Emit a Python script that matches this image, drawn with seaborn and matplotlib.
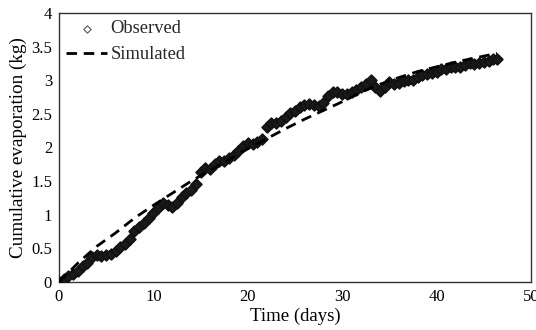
import matplotlib
matplotlib.use("Agg")
import matplotlib.pyplot as plt
import seaborn as sns
import pandas as pd
import numpy as np

# Observed cumulative evaporation (kg) read every 0.5 day
obs_days = [0.0, 0.5, 1.0, 1.5, 2.0, 2.5, 3.0, 3.5, 4.0, 4.5, 5.0, 5.5, 6.0, 6.5, 7.0, 7.5,
            8.0, 8.5, 9.0, 9.5, 10.0, 10.5, 11.0, 11.5, 12.0, 12.5, 13.0, 13.5, 14.0, 14.5,
            15.0, 15.5, 16.0, 16.5, 17.0, 17.5, 18.0, 18.5, 19.0, 19.5, 20.0, 20.5, 21.0,
            21.5, 22.0, 22.5, 23.0, 23.5, 24.0, 24.5, 25.0, 25.5, 26.0, 26.5, 27.0, 27.5,
            28.0, 28.5, 29.0, 29.5, 30.0, 30.5, 31.0, 31.5, 32.0, 32.5, 33.0, 33.5, 34.0,
            34.5, 35.0, 35.5, 36.0, 36.5, 37.0, 37.5, 38.0, 38.5, 39.0, 39.5, 40.0, 40.5,
            41.0, 41.5, 42.0, 42.5, 43.0, 43.5, 44.0, 44.5, 45.0, 45.5, 46.0, 46.4]
obs_kg = [0.00, 0.05, 0.09, 0.12, 0.16, 0.24, 0.28, 0.37, 0.40, 0.39, 0.40, 0.42, 0.46, 0.52,
          0.57, 0.64, 0.76, 0.82, 0.88, 0.95, 1.02, 1.10, 1.17, 1.14, 1.12, 1.18, 1.26, 1.33,
          1.37, 1.45, 1.63, 1.70, 1.68, 1.75, 1.80, 1.80, 1.85, 1.89, 1.95, 2.02, 2.06, 2.05,
          2.08, 2.12, 2.30, 2.37, 2.37, 2.40, 2.46, 2.51, 2.55, 2.60, 2.63, 2.65, 2.63, 2.62,
          2.66, 2.76, 2.83, 2.82, 2.80, 2.80, 2.82, 2.86, 2.90, 2.95, 3.00, 2.90, 2.84, 2.90,
          2.97, 2.95, 2.96, 2.99, 3.00, 3.01, 3.05, 3.08, 3.09, 3.11, 3.13, 3.16, 3.16, 3.19,
          3.20, 3.20, 3.23, 3.25, 3.24, 3.26, 3.27, 3.29, 3.31, 3.32]

# Simulated cumulative evaporation (kg)
sim_days = [0, 2, 4, 6, 8, 10, 12, 14, 16, 18, 20, 22, 24, 26, 28, 30, 32, 34, 36, 38,
            40, 42, 44, 46.4]
sim_kg = [0.00, 0.28, 0.53, 0.73, 0.95, 1.14, 1.32, 1.50, 1.66, 1.82, 1.98, 2.13, 2.28,
          2.42, 2.55, 2.68, 2.82, 2.94, 3.04, 3.13, 3.20, 3.27, 3.33, 3.40]

x_ticks = [0, 10, 20, 30, 40, 50]
y_ticks = [0, 0.5, 1, 1.5, 2, 2.5, 3, 3.5, 4]
y_tick_labels = ["0", "0.5", "1", "1.5", "2", "2.5", "3", "3.5", "4"]

sns.set_theme(style="white")
plt.rcParams['font.family'] = ['Liberation Serif', 'DejaVu Serif']

obs_df = pd.DataFrame({"t": obs_days, "v": obs_kg})
sim_df = pd.DataFrame({"t": sim_days, "v": sim_kg})

fig = plt.figure(figsize=(5.36, 3.30), dpi=100)
ax = fig.add_axes([0.110, 0.1455, 0.8807, 0.8151])

sns.scatterplot(data=obs_df, x="t", y="v", ax=ax, marker="D", s=30,
                facecolor="#1a1a1a", edgecolor="#111111", linewidth=1.2,
                label="Observed", zorder=3)
sns.lineplot(data=sim_df, x="t", y="v", ax=ax, color="black", linewidth=2.0,
             label="Simulated", zorder=4)
ax.lines[-1].set_dashes([3.8, 2.4])

ax.set_xlim(0, 50)
ax.set_ylim(0, 4)
ax.set_xticks(x_ticks)
ax.set_xticklabels([str(t) for t in x_ticks])
ax.set_yticks(y_ticks)
ax.set_yticklabels(y_tick_labels)
ax.tick_params(axis="both", direction="inout", length=6, width=1, color="#222222",
               labelsize=12, labelcolor="black", pad=2)
for sp in ax.spines.values():
    sp.set_color("#333333")
    sp.set_linewidth(1.0)
ax.set_xlabel("Time (days)", fontsize=13.5, color="black", labelpad=2)
ax.set_ylabel("Cumulative evaporation (kg)", fontsize=13.8, color="black", labelpad=3)

leg = ax.legend(loc="upper left", frameon=False, fontsize=13.3, handlelength=2.2,
                handletextpad=0.2, borderaxespad=0.0, labelspacing=0.47,
                bbox_to_anchor=(0.0, 1.0))
h = leg.legend_handles[0]
h.set_sizes([14])
h.set_linewidth(0.8)
h.set_facecolor("white")
h.set_edgecolor("#555555")

fig.savefig("out.png", dpi=100)
